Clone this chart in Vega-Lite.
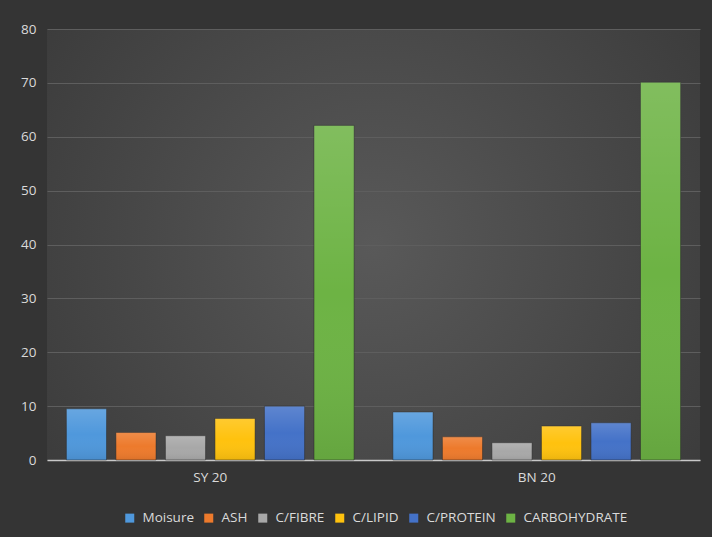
{
  "$schema": "https://vega.github.io/schema/vega-lite/v6.json",
  "width": 653,
  "height": 431,
  "autosize": {"type": "none"},
  "padding": {"left": 47, "top": 29, "right": 12, "bottom": 77},
  "background": "#343434",
  "config": {
    "view": {
      "stroke": null,
      "fill": {
        "gradient": "radial",
        "x1": 0.5, "y1": 0.5, "r1": 0,
        "x2": 0.5, "y2": 0.5, "r2": 0.75,
        "stops": [
          {"offset": 0, "color": "#595959"},
          {"offset": 1, "color": "#353535"}
        ]
      }
    },
    "font": "Open Sans",
    "axis": {"labelFont": "Open Sans", "labelColor": "#dadada", "labelFontSize": 13.5}
  },
  "data": {
    "values": [
      {"sample": "SY 20", "component": "Moisure", "value": 9.5},
      {"sample": "SY 20", "component": "ASH", "value": 5.1},
      {"sample": "SY 20", "component": "C/FIBRE", "value": 4.5},
      {"sample": "SY 20", "component": "C/LIPID", "value": 7.7},
      {"sample": "SY 20", "component": "C/PROTEIN", "value": 10.0},
      {"sample": "SY 20", "component": "CARBOHYDRATE", "value": 62.1},
      {"sample": "BN 20", "component": "Moisure", "value": 8.9},
      {"sample": "BN 20", "component": "ASH", "value": 4.3},
      {"sample": "BN 20", "component": "C/FIBRE", "value": 3.2},
      {"sample": "BN 20", "component": "C/LIPID", "value": 6.3},
      {"sample": "BN 20", "component": "C/PROTEIN", "value": 6.9},
      {"sample": "BN 20", "component": "CARBOHYDRATE", "value": 70.1}
    ]
  },
  "encoding": {
    "x": {
      "field": "sample", "type": "nominal", "sort": ["SY 20", "BN 20"],
      "scale": {"paddingInner": 0.09, "paddingOuter": 0.045},
      "axis": {"title": null, "labelAngle": 0, "ticks": false, "domain": true, "domainColor": "#c8c8c8", "domainWidth": 1.5, "labelPadding": 10, "grid": false}
    },
    "xOffset": {
      "field": "component", "type": "nominal",
      "sort": ["Moisure", "ASH", "C/FIBRE", "C/LIPID", "C/PROTEIN", "CARBOHYDRATE"],
      "scale": {"paddingInner": 0.19, "paddingOuter": 0.095}
    },
    "y": {
      "field": "value", "type": "quantitative",
      "scale": {"domain": [0, 80], "nice": false},
      "axis": {"title": null, "values": [0, 10, 20, 30, 40, 50, 60, 70, 80], "labelOverlap": false, "ticks": false, "domain": false, "gridColor": "#5e5e5e", "gridWidth": 1, "labelPadding": 11}
    }
  },
  "layer": [
    {
      "mark": {"type": "bar", "stroke": "#2a2a2a", "strokeOpacity": 0.5, "strokeWidth": 1},
      "encoding": {
        "color": {
          "field": "component", "type": "nominal",
          "sort": ["Moisure", "ASH", "C/FIBRE", "C/LIPID", "C/PROTEIN", "CARBOHYDRATE"],
          "scale": {
            "domain": ["Moisure", "ASH", "C/FIBRE", "C/LIPID", "C/PROTEIN", "CARBOHYDRATE"],
            "range": ["#4f98dc", "#ed7a2c", "#a8a8a8", "#ffc20e", "#4472c8", "#6db344"]
          },
          "legend": {
            "title": null,
            "orient": "none",
            "direction": "horizontal",
            "legendX": 76,
            "legendY": 482,
            "symbolType": "square",
            "symbolSize": 81,
            "symbolStrokeWidth": 0,
            "symbolOpacity": 1,
            "labelColor": "#dadada",
            "labelFontSize": 13.5,
            "labelFont": "Open Sans",
            "columnPadding": 8,
            "labelOffset": 6
          }
        }
      }
    },
    {
      "mark": {
        "type": "bar",
        "fill": {
          "gradient": "linear",
          "x1": 0, "y1": 0, "x2": 0, "y2": 1,
          "stops": [
            {"offset": 0, "color": "rgba(255,255,255,0.14)"},
            {"offset": 0.5, "color": "rgba(255,255,255,0)"},
            {"offset": 1, "color": "rgba(0,0,0,0.08)"}
          ]
        }
      }
    }
  ]
}
